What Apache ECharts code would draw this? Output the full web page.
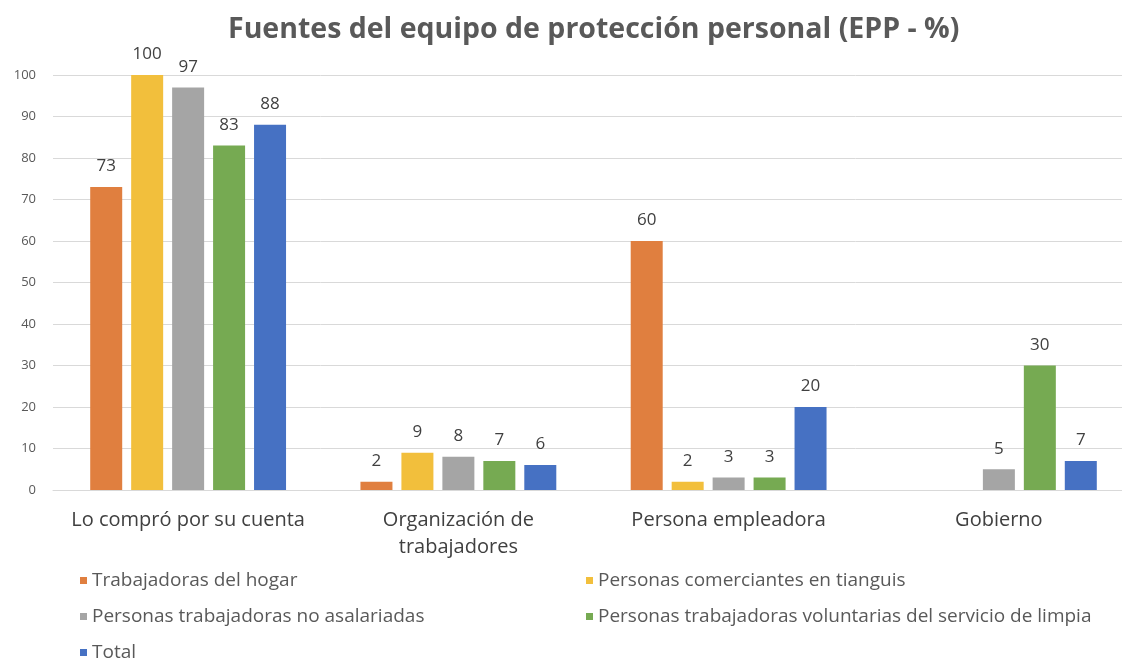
<!DOCTYPE html>
<html>
<head>
<meta charset="utf-8">
<script src="https://cdn.jsdelivr.net/npm/echarts@6/dist/echarts.min.js"></script>
<style>
  html, body { margin: 0; padding: 0; background: #fff; }
  #chart { width: 1122px; height: 659px; }
</style>
</head>
<body>
<div id="chart"></div>
<script>
var categories = ['Lo compró por su cuenta', 'Organización de\ntrabajadores', 'Persona empleadora', 'Gobierno'];
var seriesNames = [
    'Trabajadoras del hogar',
    'Personas comerciantes en tianguis',
    'Personas trabajadoras no asalariadas',
    'Personas trabajadoras voluntarias del servicio de limpia',
    'Total'
];
var hogar = [73, 2, 60, null];
var tianguis = [100, 9, 2, null];
var noAsalariadas = [97, 8, 3, 5];
var limpia = [83, 7, 3, 30];
var total = [88, 6, 20, 7];
var colors = ['#e07f3f', '#f2bf3c', '#a5a5a5', '#76aa52', '#4671c3'];

var seriesData = [hogar, tianguis, noAsalariadas, limpia, total];

var chart = echarts.init(document.getElementById('chart'));
var font = '"Open Sans", Lato, sans-serif';

// posiciones de cada entrada de la leyenda (dos columnas)
var legendPos = [[75, 566], [581, 566], [75, 602], [581, 602], [75, 638]];
var legends = seriesNames.map(function(name, i) {
    return {
        data: [name],
        left: legendPos[i][0],
        top: legendPos[i][1],
        icon: 'rect',
        itemWidth: 7,
        itemHeight: 7,
        itemGap: 4,
        textStyle: { color: '#595959', fontSize: 19, fontFamily: font }
    };
});

var option = {
    backgroundColor: '#fff',
    color: colors,
    title: {
        text: 'Fuentes del equipo de protección personal (EPP - %)',
        left: 223,
        top: 10,
        textStyle: { color: '#595959', fontSize: 28.5, fontWeight: 'bold', fontFamily: font }
    },
    legend: legends,
    grid: { left: 53, right: -12, top: 75, bottom: 169, containLabel: false, outerBoundsMode: 'none' },
    xAxis: {
        type: 'category',
        data: categories,
        axisTick: { show: false },
        axisLine: { lineStyle: { color: '#d9d9d9' } },
        axisLabel: { interval: 0, color: '#404040', fontSize: 20, fontFamily: font, margin: 17, lineHeight: 27 }
    },
    yAxis: {
        type: 'value',
        min: 0,
        max: 100,
        interval: 10,
        axisLabel: { color: '#595959', fontSize: 13, fontFamily: font, margin: 17 },
        splitLine: { lineStyle: { color: '#d9d9d9' } }
    },
    series: seriesData.map(function(d, i) {
        return {
            name: seriesNames[i],
            type: 'bar',
            data: d,
            barWidth: 32,
            barGap: '28%',
            label: {
                show: true,
                position: 'top',
                distance: 12,
                color: '#404040',
                fontSize: 17,
                fontFamily: font
            }
        };
    })
};
chart.setOption(option);
</script>
</body>
</html>
